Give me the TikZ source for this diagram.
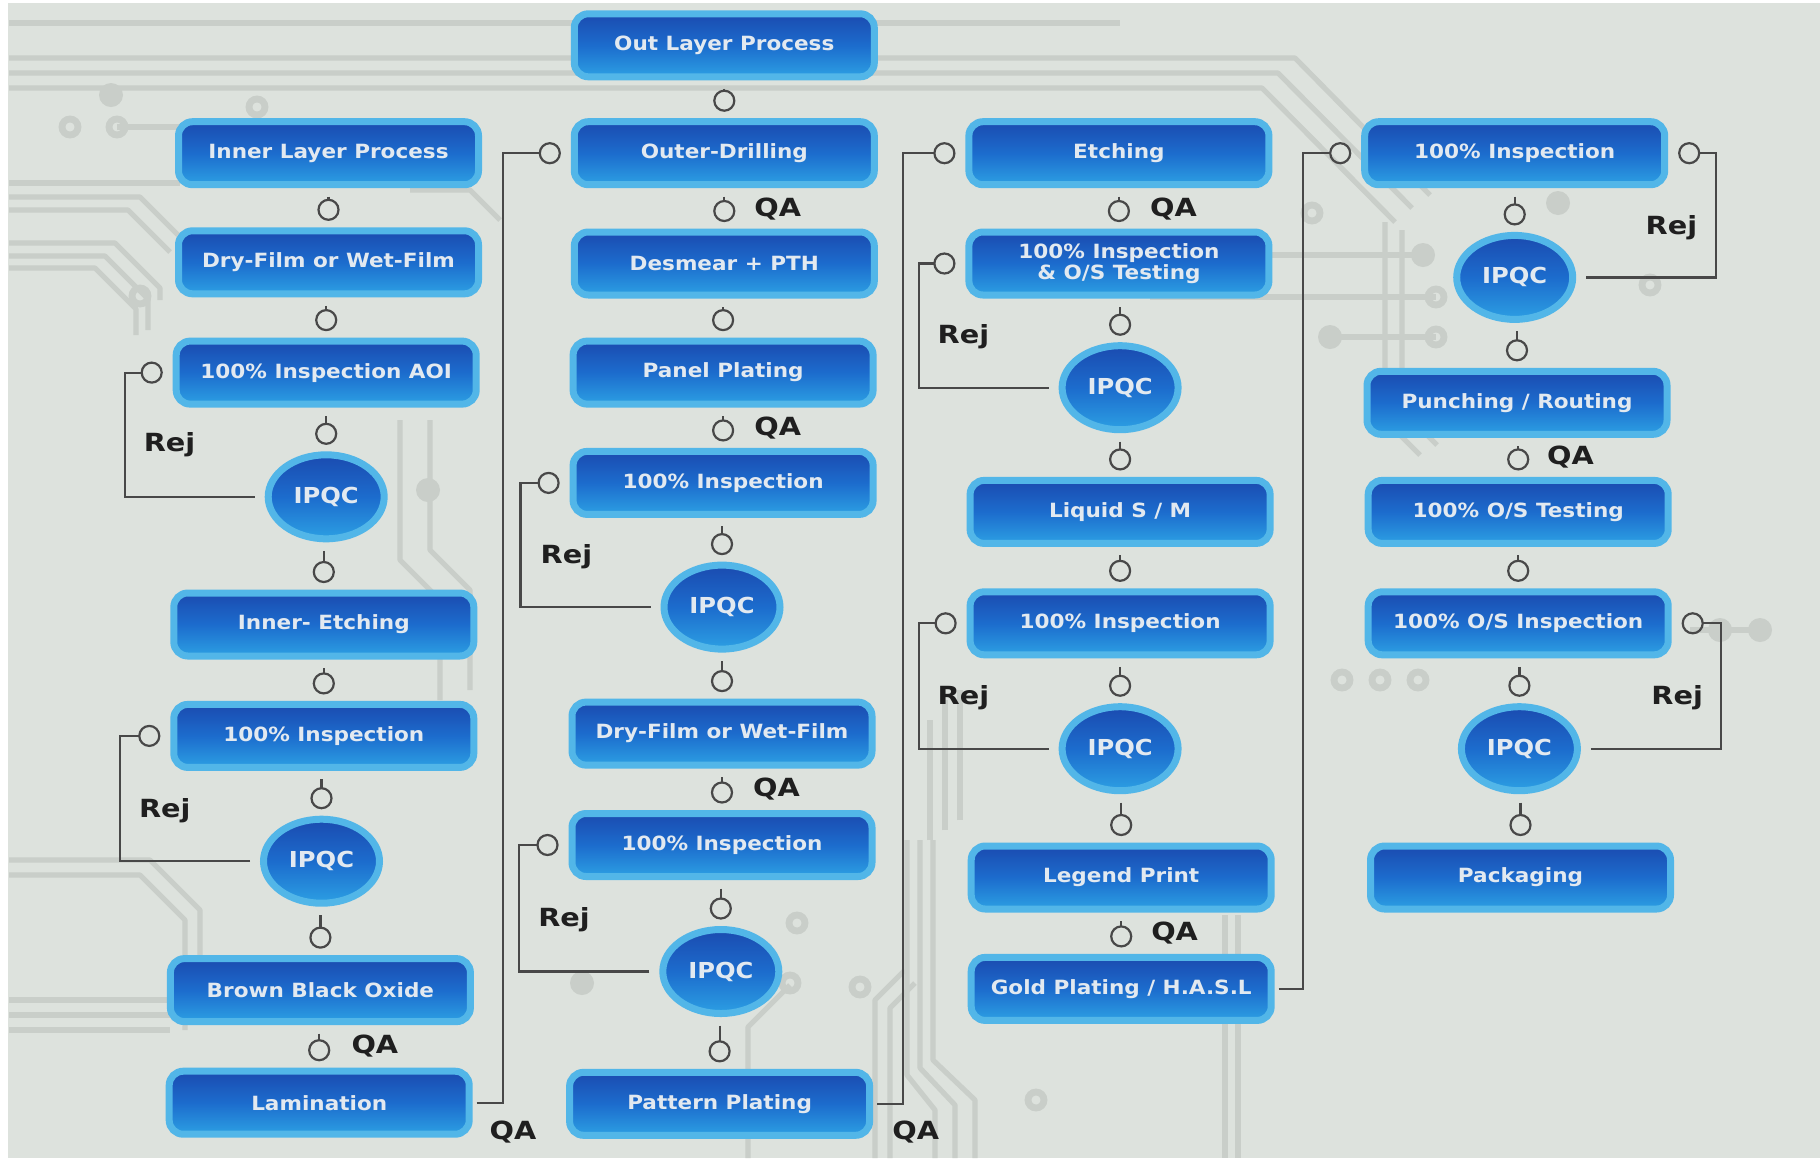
\documentclass[tikz,border=0pt]{standalone}
\usepackage{fontspec}
\setmainfont{DejaVu Sans}
\newfontfamily\boxfont{DejaVu Sans}[FakeStretch=1.1]
\newfontfamily\lblfont{DejaVu Sans}[FakeStretch=1.15]
\usetikzlibrary{shapes.geometric,calc}

\definecolor{bgc}{HTML}{DDE2DD}
\definecolor{tracec}{HTML}{C9CEC9}
\definecolor{glowc}{HTML}{52B6E8}
\definecolor{btop}{HTML}{1B4BB0}
\definecolor{bmid}{HTML}{1C6CCD}
\definecolor{bbot}{HTML}{2C9FE3}
\definecolor{btext}{HTML}{E2E9F0}
\definecolor{wirec}{HTML}{484848}

\tikzset{
  proc/.style={rectangle, rounded corners=7pt, draw=glowc, line width=3.5pt,
    top color=btop, bottom color=bbot, middle color=bmid,
    minimum width=150pt, minimum height=31.5pt, inner sep=0pt,
    text=btext, align=center,
    font=\boxfont\bfseries\fontsize{9.8}{10.6}\selectfont},
  qc/.style={ellipse, draw=glowc, line width=3.5pt,
    top color=btop, bottom color=bbot, middle color=bmid,
    minimum width=58pt, minimum height=42pt, inner sep=0pt,
    text=btext, font=\boxfont\bfseries\fontsize{11}{12}\selectfont},
  wire/.style={draw=wirec, line width=1.1pt},
  lbl/.style={font=\lblfont\bfseries\fontsize{12.5}{14}\selectfont, text=black!88, inner sep=0pt},
  trace/.style={draw=tracec, line width=2.6pt, line join=round},
  ring/.style={draw=tracec, line width=3.4pt},
  pad/.style={fill=tracec},
}

% vertical link: stem from upper node, open circle on top of lower node
\newcommand\vl[2]{%
  \draw[wire] ($(#1.south -| #2.north)+(0,-4.25pt)$) -- ($(#2.north)+(0,13.75pt)$);
  \draw[wire] ($(#2.north)+(0,8.75pt)$) circle (5pt);
}
% reject loop on the left
\newcommand\rejL[2]{%
  \draw[wire] ([xshift=-5pt]#1.west) -- ++(-65pt,0) |- ([xshift=-15.5pt]#2.west);
  \draw[wire] ([xshift=-10.5pt]#2.west) circle (5pt);
}
% reject loop on the right
\newcommand\rejR[2]{%
  \draw[wire] ([xshift=5pt]#1.east) -- ++(65pt,0) |- ([xshift=15.5pt]#2.east);
  \draw[wire] ([xshift=10.5pt]#2.east) circle (5pt);
}
% link from bottom of one column to top of next
\newcommand\xl[3]{%
  \draw[wire] ([xshift=2pt]#1.east) -- ++(#3,0) |- ([xshift=-15.5pt]#2.west);
  \draw[wire] ([xshift=-10.5pt]#2.west) circle (5pt);
}

\begin{document}
\begin{tikzpicture}[x=0.5pt,y=-0.5pt]
\useasboundingbox (0,0) rectangle (1820,1158);
\fill[white] (0,0) rectangle (1820,1158);
\fill[bgc] (8,3) rectangle (1820,1158);

% ---- background circuit traces ----
\draw[trace] (9,23) -- (1120,23);
\draw[trace] (9,58) -- (1295,58) -- (1430,195);
\draw[trace] (9,73) -- (1278,73) -- (1412,208);
\draw[trace] (9,88) -- (1262,88) -- (1395,222);
\draw[trace] (117,127) -- (190,127);
\draw[ring] (70,127) circle (4pt);
\draw[ring] (117,127) circle (4pt);
\fill[pad] (111,95) circle (6pt);
\draw[ring] (257,107) circle (4pt);
\draw[trace] (9,183) -- (180,183);
\draw[trace] (9,197) -- (140,197) -- (178,235);
\draw[trace] (9,210) -- (128,210) -- (170,252);
\draw[trace] (9,243) -- (115,243) -- (160,288) -- (160,300);
\draw[trace] (9,256) -- (105,256) -- (148,299) -- (148,330);
\draw[trace] (9,268) -- (95,268) -- (136,309) -- (136,335);
\draw[ring] (140,296) circle (4pt);
\draw[trace] (410,190) -- (470,190) -- (500,220);
\draw[trace] (400,420) -- (400,560) -- (440,600) -- (440,700);
\draw[trace] (430,420) -- (430,550) -- (470,590) -- (470,690);
\draw[ring] (440,718) circle (4pt);
\fill[pad] (428,490) circle (6pt);
\draw[trace] (1150,255) -- (1423,255);
\fill[pad] (1423,255) circle (6pt);
\draw[trace] (1150,297) -- (1436,297);
\draw[ring] (1436,297) circle (4pt);
\draw[trace] (1330,337) -- (1436,337);
\fill[pad] (1330,337) circle (6pt);
\draw[ring] (1436,337) circle (4pt);
\draw[ring] (1312,213) circle (4pt);
\fill[pad] (1558,203) circle (6pt);
\draw[ring] (1650,285) circle (4pt);
\draw[trace] (1385,222) -- (1385,420) -- (1420,455);
\draw[trace] (1402,230) -- (1402,410) -- (1437,445);
% lower middle bundle
\draw[trace] (907,840) -- (907,1075) -- (935,1110) -- (935,1158);
\draw[trace] (920,840) -- (920,1068) -- (955,1105) -- (955,1158);
\draw[trace] (933,840) -- (933,1060) -- (975,1100) -- (975,1158);
\draw[trace] (875,1158) -- (875,1000) -- (905,970);
\draw[trace] (890,1158) -- (890,1008) -- (915,983);
\draw[trace] (930,840) -- (930,720);
\draw[trace] (945,830) -- (945,700);
\draw[trace] (960,820) -- (960,690);
\draw[trace] (748,1158) -- (748,1027) -- (790,985);
\draw[trace] (1225,915) -- (1225,1158);
\draw[trace] (1238,915) -- (1238,1158);
\draw[ring] (797,923) circle (4pt);
\draw[ring] (860,987) circle (4pt);
\draw[ring] (790,983) circle (4pt);
\fill[pad] (582,983) circle (6pt);
\draw[ring] (1036,1100) circle (4pt);
\draw[ring] (1342,680) circle (4pt);
\draw[ring] (1380,680) circle (4pt);
\draw[ring] (1418,680) circle (4pt);
\fill[pad] (1760,630) circle (6pt);
\fill[pad] (1720,630) circle (6pt);
\draw[trace] (1690,630) -- (1760,630);
\draw[trace] (9,860) -- (150,860) -- (200,910) -- (200,1020);
\draw[trace] (9,875) -- (140,875) -- (185,920) -- (185,1030);
\draw[trace] (9,1000) -- (170,1000);
\draw[trace] (9,1015) -- (170,1015);
\draw[trace] (9,1030) -- (170,1030);

% ---- column 1 ----
\node[proc] (ilp) at (328.5,153.2) {Inner Layer Process};
\node[proc] (df1) at (328.5,262.3) {Dry-Film or Wet-Film};
\node[proc] (aoi) at (326.2,372.6) {100\% Inspection AOI};
\node[qc]   (q1)  at (326.2,496.8) {IPQC};
\node[proc] (ie)  at (323.8,624.5) {Inner- Etching};
\node[proc] (in1) at (323.8,735.9) {100\% Inspection};
\node[qc]   (q2)  at (321.5,861.2) {IPQC};
\node[proc] (bbo) at (320.4,990.1) {Brown Black Oxide};
\node[proc] (lam) at (319.2,1102.7) {Lamination};

% ---- column 2 ----
\node[proc] (olp) at (724.3,45.3)  {Out Layer Process};
\node[proc] (od)  at (724.3,153.2) {Outer-Drilling};
\node[proc] (dp)  at (724.3,263.5) {Desmear + PTH};
\node[proc] (pp)  at (723.1,372.6) {Panel Plating};
\node[proc] (in2) at (723.1,482.9) {100\% Inspection};
\node[qc]   (q3)  at (722.0,607.1) {IPQC};
\node[proc] (df2) at (722.0,733.6) {Dry-Film or Wet-Film};
\node[proc] (in3) at (722.0,845.0) {100\% Inspection};
\node[qc]   (q4)  at (720.8,971.5) {IPQC};
\node[proc] (pat) at (719.6,1103.8) {Pattern Plating};

% ---- column 3 ----
\node[proc] (et)  at (1118.9,153.2) {Etching};
\node[proc] (ios) at (1118.9,263.5) {100\% Inspection\\\& O/S Testing};
\node[qc]   (q5)  at (1120.1,387.7) {IPQC};
\node[proc] (lsm) at (1120.1,511.9) {Liquid S / M};
\node[proc] (in4) at (1120.1,623.3) {100\% Inspection};
\node[qc]   (q6)  at (1120.1,748.7) {IPQC};
\node[proc] (lp)  at (1121.2,877.5) {Legend Print};
\node[proc] (gp)  at (1121.2,988.9) {Gold Plating / H.A.S.L};

% ---- column 4 ----
\node[proc] (in5) at (1514.7,153.2) {100\% Inspection};
\node[qc]   (q7)  at (1514.7,277.4) {IPQC};
\node[proc] (pr)  at (1517.0,402.8) {Punching / Routing};
\node[proc] (ost) at (1518.2,511.9) {100\% O/S Testing};
\node[proc] (osi) at (1518.2,623.3) {100\% O/S Inspection};
\node[qc]   (q8)  at (1519.4,748.7) {IPQC};
\node[proc] (pk)  at (1520.5,877.5) {Packaging};

% ---- vertical links ----
\vl{ilp}{df1} \vl{df1}{aoi} \vl{aoi}{q1} \vl{q1}{ie} \vl{ie}{in1}
\vl{in1}{q2} \vl{q2}{bbo} \vl{bbo}{lam}
\vl{olp}{od} \vl{od}{dp} \vl{dp}{pp} \vl{pp}{in2} \vl{in2}{q3}
\vl{q3}{df2} \vl{df2}{in3} \vl{in3}{q4} \vl{q4}{pat}
\vl{et}{ios} \vl{ios}{q5} \vl{q5}{lsm} \vl{lsm}{in4} \vl{in4}{q6}
\vl{q6}{lp} \vl{lp}{gp}
\vl{in5}{q7} \vl{q7}{pr} \vl{pr}{ost} \vl{ost}{osi} \vl{osi}{q8} \vl{q8}{pk}

% ---- reject loops ----
\rejL{q1}{aoi} \rejL{q2}{in1} \rejL{q3}{in2} \rejL{q4}{in3}
\rejL{q5}{ios} \rejL{q6}{in4}
\rejR{q7}{in5} \rejR{q8}{osi}

% ---- links between columns ----
\xl{lam}{od}{13pt}
\xl{pat}{et}{13pt}
\xl{gp}{in5}{12pt}

% ---- labels ----
\node[lbl] (qa1) at (777.7,208.9) {QA};
\node[lbl] (qa2) at (777.7,428.3) {QA};
\node[lbl] (qa3) at (776.5,789.3) {QA};
\node[lbl] (qa4) at (1173.5,208.9) {QA};
\node[lbl] (qa5) at (1174.6,933.2) {QA};
\node[lbl] (qa6) at (1570.4,457.3) {QA};
\node[lbl] (qa7) at (374.9,1045.8) {QA};
\node[lbl] (qa8) at (513.0,1131.7) {QA};
\node[lbl] (qa9) at (915.8,1131.7) {QA};

\node[lbl] (rj1) at (169.5,444.5) {Rej};
\node[lbl] (rj2) at (164.8,810.2) {Rej};
\node[lbl] (rj3) at (566.4,557.1) {Rej};
\node[lbl] (rj4) at (564.1,919.3) {Rej};
\node[lbl] (rj5) at (963.4,336.6) {Rej};
\node[lbl] (rj6) at (963.4,697.6) {Rej};
\node[lbl] (rj7) at (1671.4,227.5) {Rej};
\node[lbl] (rj8) at (1677.2,697.6) {Rej};
\end{tikzpicture}
\end{document}
